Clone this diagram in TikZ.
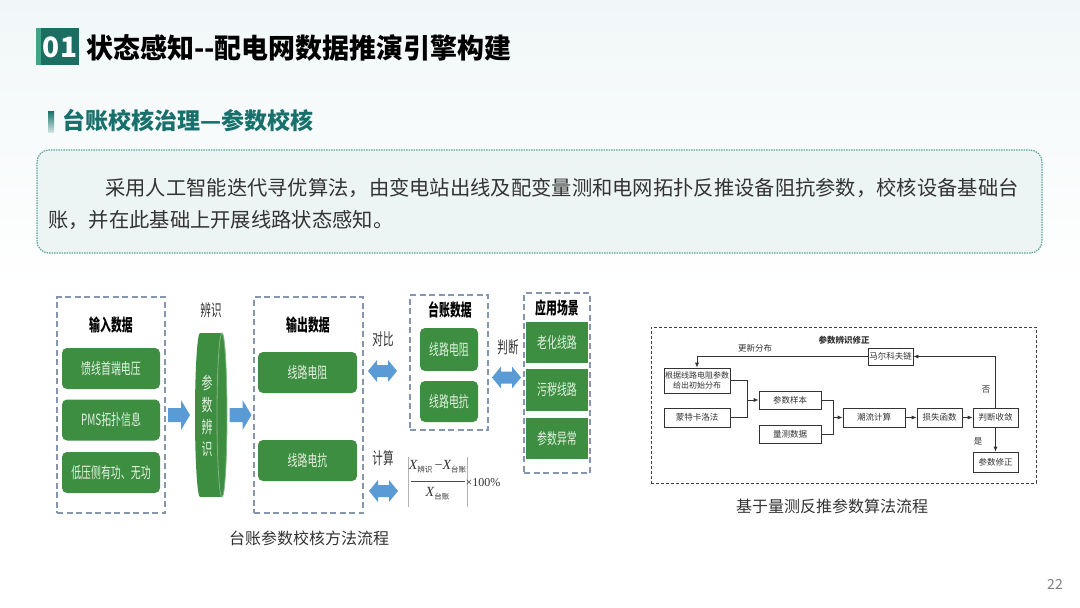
\documentclass[tikz,border=0pt]{standalone}
\usepackage{fontspec}
\setmainfont{Noto Sans CJK SC}
\newfontfamily\cond[FakeStretch=0.64]{Noto Sans CJK SC}
\newfontfamily\titlef[FakeStretch=0.98]{Noto Sans CJK SC}
\newfontfamily\tnr{Liberation Serif}
\usetikzlibrary{arrows.meta}
\definecolor{bgtop}{HTML}{F1F7F8}
\definecolor{teala}{HTML}{1C6E62}
\definecolor{tealb}{HTML}{3FA585}
\definecolor{subteal}{HTML}{17706B}
\definecolor{boxfill}{HTML}{EDF5F4}
\definecolor{boxline}{HTML}{5AA598}
\definecolor{txt}{HTML}{333333}
\definecolor{gfill}{HTML}{3E8E41}
\definecolor{gtext}{HTML}{E3F1E3}
\definecolor{dline}{HTML}{8597AE}
\definecolor{bblue}{HTML}{5B9BD5}
\tikzset{
  dbox/.style={draw=dline, dash pattern=on 6pt off 3.5pt, line width=1.4pt, inner sep=0pt},
  gbox/.style={fill=gfill, rounded corners=5pt, text=gtext, font=\cond\fontsize{15.5}{17}\selectfont, inner sep=0pt},
  sqbox/.style={gbox, rounded corners=0pt},
  ttl/.style={font=\cond\bfseries\fontsize{17}{19}\selectfont, text=black, inner sep=0pt},
  lbl/.style={font=\cond\fontsize{16.5}{18}\selectfont, text=txt, inner sep=0pt},
  fbox/.style={draw=black!80, line width=0.7pt, fill=white, font=\fontsize{8.5}{10}\selectfont, inner sep=0pt, text=txt, align=center},
  flbl/.style={font=\fontsize{8.5}{10}\selectfont, text=txt, inner sep=0pt},
  farrow/.style={line width=0.7pt, draw=black!80, -{Latex[length=5pt,width=4pt]}},
  fline/.style={line width=0.7pt, draw=black!80},
  captxt/.style={font=\fontsize{16}{18}\selectfont, text=txt, inner sep=0pt},
  sarrow/.pic={\fill[bblue] (-11,-7) -- (2,-7) -- (2,-15) -- (11,0) -- (2,15) -- (2,7) -- (-11,7) -- cycle;},
  darrow/.pic={\fill[bblue] (-14.5,0) -- (-5.5,-11) -- (-5.5,-6) -- (5.5,-6) -- (5.5,-11) -- (14.5,0) -- (5.5,11) -- (5.5,6) -- (-5.5,6) -- (-5.5,11) -- cycle;}
}
\begin{document}
\begin{tikzpicture}[x=1pt,y=-1pt]
\useasboundingbox (0,0) rectangle (1080,608);
% background
\shade[top color=bgtop, bottom color=white] (0,0) rectangle (1080,290);
\fill[white] (0,290) rectangle (1080,608);

% title
\fill[teala] (36,28) rectangle (79,65);
\fill[tealb] (36,28) rectangle (41,65);
\node[font=\bfseries\fontsize{28}{30}\selectfont, text=white, inner sep=0pt] (numbox) at (60,47.5) {01};
\node[anchor=west, font=\titlef\bfseries\fontsize{27.5}{30}\selectfont, text=black, inner sep=0pt] (title) at (86,48) {状态感知--配电网数据推演引擎构建};

% subtitle
\shade[top color=subteal, bottom color=subteal!20] (48,111) rectangle (54,132);
\node[anchor=west, font=\bfseries\fontsize{23}{25}\selectfont, text=subteal, inner sep=0pt] (subtitle) at (62,121) {台账校核治理—参数校核};

% description box
\node[draw=boxline, dash pattern=on 1.5pt off 1pt, line width=1.2pt, fill=boxfill, rounded corners=12pt, minimum width=1005pt, minimum height=103pt, inner sep=0pt] (desc) at (539.5,201.5) {};
\node[anchor=west, font=\fontsize{20.3}{22}\selectfont, text=txt, inner sep=0pt] (line1) at (105,188) {采用人工智能迭代寻优算法，由变电站出线及配变量测和电网拓扑反推设备阻抗参数，校核设备基础台};
\node[anchor=west, font=\fontsize{20.3}{22}\selectfont, text=txt, inner sep=0pt] (line2) at (48,220) {账，并在此基础上开展线路状态感知。};

% ---------- left diagram ----------
\node[dbox, minimum width=108pt, minimum height=216pt] (inbox) at (111,405) {};
\node[ttl] (intitle) at (111,325) {输入数据};
\node[gbox, minimum width=98pt, minimum height=41pt] (in1) at (111,368.5) {馈线首端电压};
\node[gbox, minimum width=98pt, minimum height=41pt] (in2) at (111,420) {PMS拓扑信息};
\node[gbox, minimum width=98pt, minimum height=41pt] (in3) at (111,472.5) {低压侧有功、无功};

\pic at (179,415) {sarrow};
\node[lbl] (bianshi) at (211,310) {辨识};
% cylinder
\fill[gfill] (200,333) rectangle (222,497);
\fill[gfill] (200,415) ellipse [x radius=5, y radius=82];
\fill[gfill] (222,415) ellipse [x radius=5, y radius=82];
\draw[gfill!65!white, line width=0.8pt] (222,415) ellipse [x radius=5, y radius=82];
\node[font=\cond\fontsize{17}{22}\selectfont, text=gtext, align=center, inner sep=0pt] (cyl) at (207,416) {参\\数\\辨\\识};
\pic at (240.5,415) {sarrow};

\node[dbox, minimum width=109pt, minimum height=216pt] (outbox) at (308.5,405) {};
\node[ttl] (outtitle) at (308,325) {输出数据};
\node[gbox, minimum width=99pt, minimum height=41pt] (out1) at (307.5,372.5) {线路电阻};
\node[gbox, minimum width=99pt, minimum height=41pt] (out2) at (307.5,460.5) {线路电抗};

\node[lbl] (duibi) at (383,339) {对比};
\pic at (382.5,371) {darrow};
\node[lbl] (jisuan) at (383,458) {计算};
\pic at (383.5,491) {darrow};

% formula
\draw[gray!60, line width=0.8pt] (408,457) -- (408,507);
\draw[gray!60, line width=0.8pt] (467,457) -- (467,507);
\draw[black!70, line width=0.6pt] (411,481) -- (465,481);
\node[font=\fontsize{14}{14}\selectfont, text=txt, inner sep=0pt] (numer) at (437.5,467) {{\tnr\itshape X}\raisebox{-3pt}{\fontsize{7.5}{7.5}\selectfont 辨识}{\tnr\,−}{\tnr\itshape X}\raisebox{-3pt}{\fontsize{7.5}{7.5}\selectfont 台账}};
\node[font=\fontsize{14}{14}\selectfont, text=txt, inner sep=0pt] (denom) at (437.5,494) {{\tnr\itshape X}\raisebox{-3pt}{\fontsize{7.5}{7.5}\selectfont 台账}};
\node[font=\tnr\fontsize{12}{12}\selectfont, text=txt, inner sep=0pt] (pct) at (483,483) {×100\%};

\node[dbox, minimum width=78pt, minimum height=135pt] (ldbox) at (449,362.5) {};
\node[ttl] (ldtitle) at (450,310) {台账数据};
\node[gbox, minimum width=58pt, minimum height=43pt] (ld1) at (449,349.5) {线路电阻};
\node[gbox, minimum width=58pt, minimum height=41pt] (ld2) at (449,401.5) {线路电抗};

\node[lbl] (panduan) at (508,347) {判断};
\pic at (506.5,377.5) {darrow};

\node[dbox, minimum width=66pt, minimum height=180pt] (appbox) at (557,383) {};
\node[ttl] (apptitle) at (557,308) {应用场景};
\node[sqbox, minimum width=62pt, minimum height=41pt] (app1) at (557,342.5) {老化线路};
\node[sqbox, minimum width=62pt, minimum height=42pt] (app2) at (557,390) {污秽线路};
\node[sqbox, minimum width=62pt, minimum height=41pt] (app3) at (557,438.5) {参数异常};

\node[captxt] (capl) at (309,538) {台账参数校核方法流程};

% ---------- right diagram ----------
\node[draw=black!75, dash pattern=on 3pt off 2pt, line width=0.8pt, minimum width=385pt, minimum height=156pt, inner sep=0pt] (rbox) at (843.5,405) {};
\node[flbl, font=\bfseries\fontsize{8.5}{10}\selectfont] (rtitle) at (844,340) {参数辨识修正};
\node[fbox, minimum width=45pt, minimum height=17pt] (mk) at (890.5,356.5) {马尔科夫链};
\node[fbox, minimum width=66pt, minimum height=25pt, font=\fontsize{8}{10}\selectfont] (gj) at (697,380.5) {根据线路电阻参数\\给出初始分布};
\node[fbox, minimum width=66pt, minimum height=19pt] (mc) at (697,417.5) {蒙特卡洛法};
\node[fbox, minimum width=62pt, minimum height=18pt] (cs) at (790,400) {参数样本};
\node[fbox, minimum width=62pt, minimum height=18pt] (lc) at (790,434) {量测数据};
\node[fbox, minimum width=62pt, minimum height=19pt] (cl) at (874,417.5) {潮流计算};
\node[fbox, minimum width=45pt, minimum height=19pt] (ss) at (939.5,417.5) {损失函数};
\node[fbox, minimum width=45pt, minimum height=19pt] (pd) at (995.5,417.5) {判断收敛};
\node[fbox, minimum width=45pt, minimum height=20pt] (xz) at (995.5,462) {参数修正};

\coordinate (j1) at (747,400);
\coordinate (j2) at (833,417.5);
\draw[farrow] (mk.west) -- (mk.west -| gj.north) -- (gj.north);
\draw[farrow] (pd.north) |- (mk.east);
\draw[farrow] (pd.south) -- (xz.north);
\draw[fline] (gj.east) -| (j1);
\draw[fline] (mc.east) -| (j1);
\draw[farrow] (j1) -- (cs.west);
\draw[fline] (cs.east) -| (j2);
\draw[fline] (lc.east) -| (j2);
\draw[farrow] (j2) -- (cl.west);
\draw[farrow] (cl.east) -- (ss.west);
\draw[farrow] (ss.east) -- (pd.west);
\node[flbl] (gxfb) at (755,348) {更新分布};
\node[flbl] (fou) at (986,390) {否};
\node[flbl] (shi) at (978,441) {是};

\node[captxt] (capr) at (832,506) {基于量测反推参数算法流程};
\node[font=\fontsize{14}{16}\selectfont, text=gray, inner sep=0pt] (page) at (1055,584) {22};
\end{tikzpicture}
\end{document}
